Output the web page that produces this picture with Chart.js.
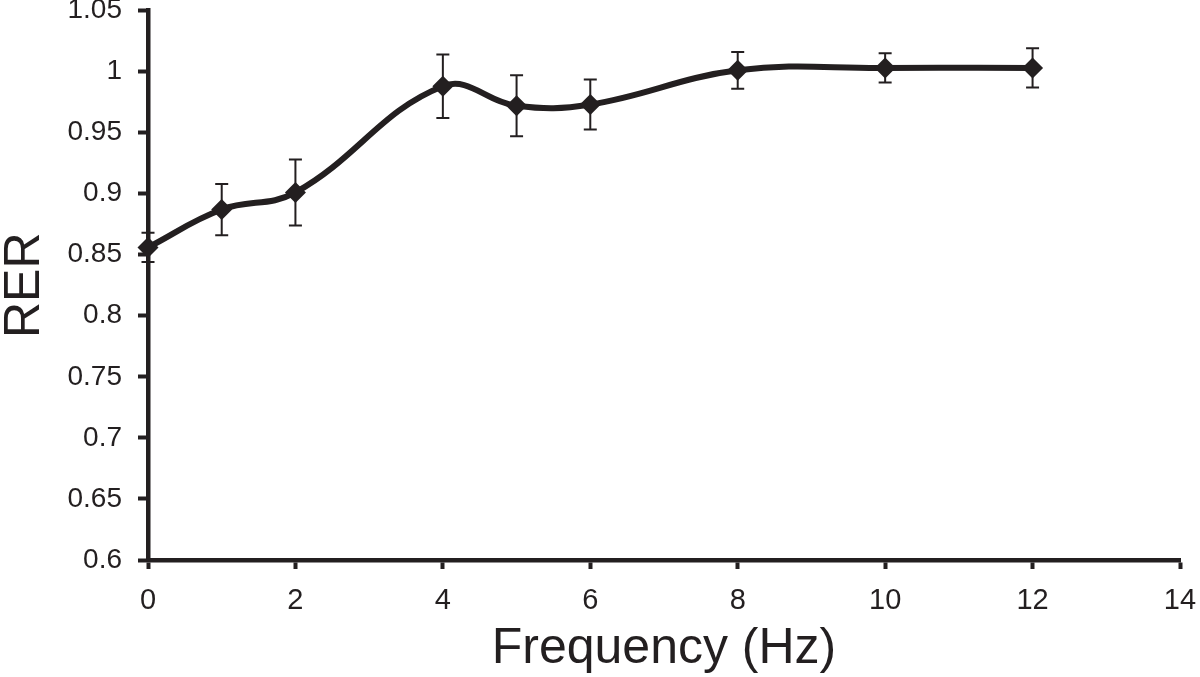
<!DOCTYPE html>
<html>
<head>
<meta charset="utf-8">
<script src="https://cdn.jsdelivr.net/npm/chart.js@4.4.0/dist/chart.umd.min.js"></script>
<style>
    html, body { margin: 0; padding: 0; background: #fff; }
    #wrap { width: 1200px; height: 677px; position: relative; }
</style>
</head>
<body>
<div id="wrap"><canvas id="chart"></canvas></div>
<script>
// values
var freq = [0, 1, 2, 4, 5, 6, 8, 10, 12];
var rer = [0.856, 0.887, 0.901, 0.988, 0.972, 0.973, 1.001, 1.003, 1.003];
var rerErr = [0.012, 0.021, 0.027, 0.026, 0.025, 0.0205, 0.015, 0.012, 0.016];
var xTicks = [0, 2, 4, 6, 8, 10, 12, 14];
var yTicks = [0.6, 0.65, 0.7, 0.75, 0.8, 0.85, 0.9, 0.95, 1, 1.05];

var ink = '#231f20';
Chart.defaults.font.family = "'Liberation Sans', Arial, sans-serif";
Chart.defaults.color = ink;

var points = freq.map(function (f, i) { return {x: f, y: rer[i]}; });

// draws the +/- error bars through the scales
var errorBars = {
    id: 'errorBars',
    beforeDatasetsDraw: function (chart) {
        var ctx = chart.ctx, xs = chart.scales.x, ys = chart.scales.y;
        ctx.save();
        ctx.strokeStyle = ink;
        ctx.lineWidth = 2;
        freq.forEach(function (f, i) {
            var px = xs.getPixelForValue(f);
            var top = ys.getPixelForValue(rer[i] + rerErr[i]);
            var bot = ys.getPixelForValue(rer[i] - rerErr[i]);
            ctx.beginPath();
            ctx.moveTo(px, top); ctx.lineTo(px, bot);
            ctx.moveTo(px - 6.5, top); ctx.lineTo(px + 6.5, top);
            ctx.moveTo(px - 6.5, bot); ctx.lineTo(px + 6.5, bot);
            ctx.stroke();
        });
        ctx.restore();
    }
};

new Chart(document.getElementById('chart'), {
    type: 'line',
    data: {
        datasets: [{
            data: points,
            borderColor: ink,
            backgroundColor: ink,
            borderWidth: 6,
            tension: 0.4,
            pointStyle: 'rectRot',
            pointRadius: 10.5,
            pointBorderWidth: 0,
            clip: false
        }]
    },
    options: {
        responsive: true,
        maintainAspectRatio: false,
        animation: false,
        events: [],
        layout: {padding: {top: 7, right: 20, bottom: 0, left: 0}},
        plugins: {legend: {display: false}, tooltip: {enabled: false}},
        scales: {
            x: {
                type: 'linear',
                min: 0,
                max: 14,
                afterBuildTicks: function (s) { s.ticks = xTicks.map(function (v) { return {value: v}; }); },
                afterFit: function (s) { s.height = 117; s.paddingLeft = 0; s.paddingRight = 0; },
                grid: {drawOnChartArea: false, tickLength: 9, tickWidth: 4, tickColor: ink},
                border: {display: true, width: 4.5, color: ink},
                ticks: {font: {size: 29}, padding: 15, color: ink, maxRotation: 0,
                        callback: function (v) { return String(v); }},
                title: {display: true, text: 'Frequency (Hz)', font: {size: 50, lineHeight: 1},
                        padding: {top: 0, bottom: 3}, color: ink}
            },
            y: {
                min: 0.6,
                max: 1.05,
                afterBuildTicks: function (s) { s.ticks = yTicks.map(function (v) { return {value: v}; }); },
                afterFit: function (s) { s.width = 148; s.paddingTop = 0; s.paddingBottom = 0; },
                grid: {drawOnChartArea: false, tickLength: 10, tickWidth: 4, tickColor: ink},
                border: {display: true, width: 4.5, color: ink},
                ticks: {font: {size: 28}, padding: 16, color: ink,
                        callback: function (v) { return String(+v.toFixed(2)); }},
                title: {display: true, text: 'RER', font: {size: 50, lineHeight: 1},
                        padding: {top: 0, bottom: 0}, color: ink}
            }
        }
    },
    plugins: [errorBars]
});
</script>
</body>
</html>
